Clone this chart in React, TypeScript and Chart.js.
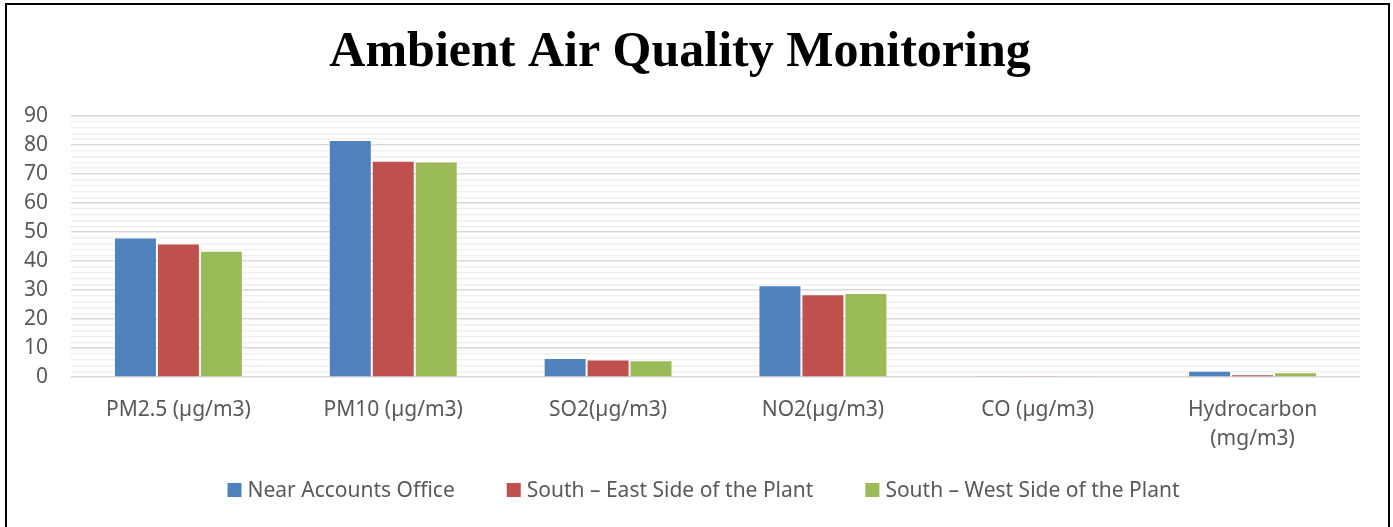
import React, { useEffect, useRef } from "react";
import { Chart, registerables } from "chart.js";

Chart.register(...registerables);

const TITLE = "Ambient Air Quality Monitoring";
const categories: (string | string[])[] = [
  "PM2.5 (µg/m3)",
  "PM10 (µg/m3)",
  "SO2(µg/m3)",
  "NO2(µg/m3)",
  "CO (µg/m3)",
  ["Hydrocarbon", "(mg/m3)"],
];
const seriesNames = [
  "Near Accounts Office",
  "South – East Side of the Plant",
  "South – West Side of the Plant",
];
const nearAccountsOffice = [48.1, 81.7, 6.6, 31.7, 0.1, 2.2];
const southEastSide = [46.1, 74.6, 6.1, 28.6, 0.1, 1.0];
const southWestSide = [43.6, 74.3, 5.8, 29.0, 0.02, 1.7];
const seriesColors = ["#4F81BD", "#C0504D", "#9BBB59"];
const yTicksMajor = [0, 10, 20, 30, 40, 50, 60, 70, 80, 90];

const LABEL_FONT = "'Noto Sans', 'Open Sans', sans-serif";
const TEXT_COLOR = "#595959";

const customLegend = {
  id: "customLegend",
  afterDraw(chart: any) {
    const ctx = chart.ctx as CanvasRenderingContext2D;
    ctx.save();
    ctx.font = `21px ${LABEL_FONT}`;
    const box = 14;
    const gapBoxText = 6;
    const gapItems = 52;
    const items = chart.data.datasets.map((ds: any) => ({
      text: ds.label as string,
      color: ds.backgroundColor as string,
      w: ctx.measureText(ds.label).width,
    }));
    const total =
      items.reduce((s: number, it: any) => s + box + gapBoxText + it.w, 0) +
      gapItems * (items.length - 1);
    let x = 703.5 - total / 2;
    const cy = 490;
    ctx.textBaseline = "middle";
    ctx.textAlign = "left";
    for (const it of items) {
      ctx.fillStyle = it.color;
      ctx.fillRect(x, cy - box / 2, box, box);
      ctx.fillStyle = TEXT_COLOR;
      ctx.fillText(it.text, x + box + gapBoxText, cy + 1);
      x += box + gapBoxText + it.w + gapItems;
    }
    ctx.restore();
  },
};

export default function App() {
  const canvasRef = useRef<HTMLCanvasElement | null>(null);

  useEffect(() => {
    document.body.style.overflow = "hidden";
    const canvas = canvasRef.current;
    if (!canvas) return;
    const values = [nearAccountsOffice, southEastSide, southWestSide];
    const chart = new Chart(canvas, {
      type: "bar",
      data: {
        labels: categories as any,
        datasets: seriesNames.map((name, i) => ({
          label: name,
          data: values[i],
          backgroundColor: seriesColors[i],
          borderColor: "rgba(255,255,255,0.3)",
          borderWidth: 1,
          categoryPercentage: 0.6,
          barPercentage: 1.0,
        })),
      },
      options: {
        animation: false,
        responsive: false,
        maintainAspectRatio: false,
        devicePixelRatio: 1,
        layout: { padding: { left: 0, right: 33, top: 0, bottom: 63 } },
        plugins: {
          legend: { display: false },
          tooltip: { enabled: false },
          title: {
            display: true,
            text: TITLE,
            color: "#000000",
            font: { family: "'Liberation Serif', serif", size: 50, weight: "bold", lineHeight: 1.2 },
            padding: { top: 23, bottom: 33 },
          },
        },
        scales: {
          x: {
            grid: { display: false },
            border: { display: false },
            ticks: {
              color: TEXT_COLOR,
              font: { family: LABEL_FONT, size: 21, lineHeight: 1.4 },
              padding: 10,
              maxRotation: 0,
              autoSkip: false,
            },
          },
          y: {
            min: 0,
            max: 90,
            afterFit(scale: any) {
              scale.width = 71;
            },
            border: { display: false },
            grid: {
              drawTicks: false,
              color: (c: any) =>
                yTicksMajor.includes(c.tick?.value) ? "#d9d9d9" : "#f0f0f0",
              lineWidth: 1.5,
            },
            ticks: {
              stepSize: 2,
              autoSkip: false,
              padding: 23,
              color: TEXT_COLOR,
              font: { family: LABEL_FONT, size: 21 },
              callback: (v: any) => (yTicksMajor.includes(Number(v)) ? String(v) : ""),
            },
          },
        },
      },
      plugins: [customLegend],
    });
    return () => chart.destroy();
  }, []);

  return (
    <div
      style={{
        position: "fixed",
        left: 0,
        top: 0,
        width: 1393,
        height: 527,
        overflow: "hidden",
        background: "#ffffff",
      }}
    >
      <canvas ref={canvasRef} width={1393} height={527} style={{ display: "block" }} />
      <div
        style={{
          position: "absolute",
          left: 5,
          top: 3,
          width: 1385,
          height: 700,
          border: "2px solid #000",
          boxSizing: "border-box",
          pointerEvents: "none",
        }}
      />
    </div>
  );
}
